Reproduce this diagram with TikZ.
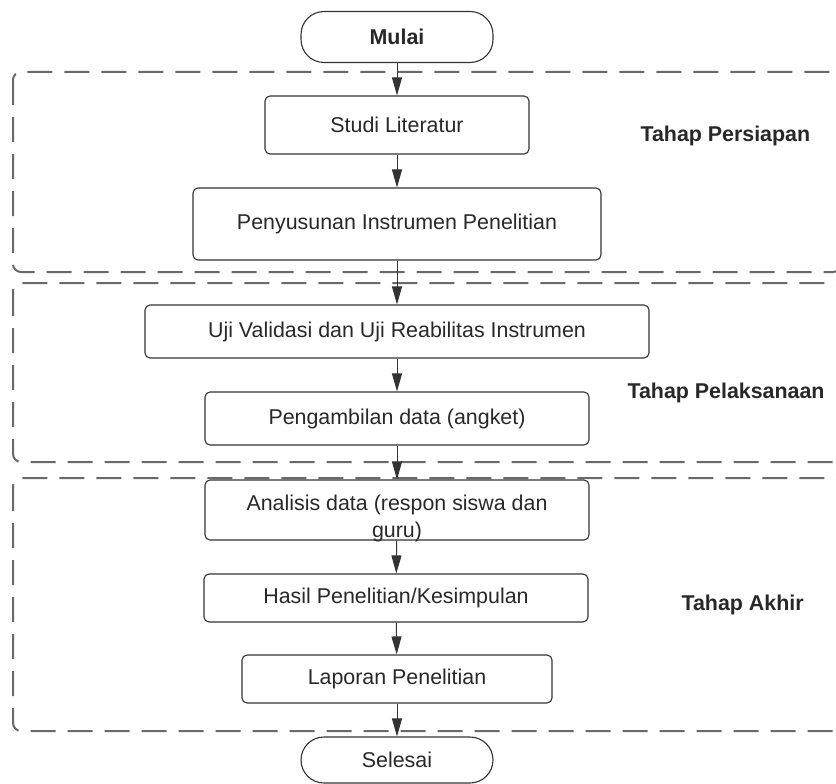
\documentclass[tikz,border=0pt]{standalone}
\usepackage{fontspec}
\setmainfont{Liberation Sans}
\usepackage{tikz}
\usetikzlibrary{calc,positioning,arrows.meta}
\definecolor{linegray}{RGB}{51,51,51}
\definecolor{framegray}{RGB}{105,105,105}
\definecolor{textgray}{RGB}{40,40,40}

\begin{document}
\begin{tikzpicture}[x=1pt, y=-1pt,
  stepbox/.style={draw=linegray, line width=1.1pt, rounded corners=5pt,
    font=\fontsize{21.4}{27}\selectfont, text=textgray, align=center,
    inner sep=0pt},
  termbox/.style={stepbox, rounded corners=23pt},
  phase/.style={draw=framegray, line width=2pt, rounded corners=8pt,
    dash pattern=on 25pt off 12pt},
  phaselabel/.style={font=\fontsize{21.4}{27}\selectfont\bfseries,
    text=textgray, anchor=west},
  flow/.style={draw=linegray, line width=1pt,
    -{Triangle[length=18pt, width=10pt]}},
]
  \useasboundingbox (0,0) rectangle (836,784);
  \clip (0,0) rectangle (836,784);

  % Phase frames
  \draw[phase] (13,72) rectangle (841,272);
  \draw[phase] (13,283) rectangle (841,462);
  \draw[phase] (13,478) rectangle (841,731);

  % Steps
  \node[termbox, minimum width=192, minimum height=51,
    font=\fontsize{21.4}{27}\selectfont\bfseries] (mulai) at (397,37) {Mulai};
  \node[stepbox, minimum width=264, minimum height=58] (studi) at (397,125)
    {Studi Literatur};
  \node[stepbox, minimum width=408, minimum height=72] (susun) at (397,224)
    {Penyusunan Instrumen Penelitian};
  \node[stepbox, minimum width=504, minimum height=53] (uji) at (397,331.5)
    {Uji Validasi dan Uji Reabilitas Instrumen};
  \node[stepbox, minimum width=384, minimum height=53] (ambil) at (397,418.5)
    {Pengambilan data (angket)};
  \node[stepbox, minimum width=384, minimum height=60] (analisis) at (397,510) {};
  \node[font=\fontsize{21.4}{27}\selectfont, text=textgray, align=center,
    inner sep=0pt] (analisistext) at (397,518)
    {Analisis data (respon siswa dan\\guru)};
  \node[stepbox, minimum width=384, minimum height=48] (hasil) at (396,598)
    {Hasil Penelitian/Kesimpulan};
  \node[stepbox, minimum width=310, minimum height=48] (laporan) at (397,679)
    {Laporan Penelitian};
  \node[termbox, minimum width=192, minimum height=46] (selesai) at (397,760)
    {Selesai};

  % Phase labels
  \node[phaselabel] (persiapan) at (637,136) {Tahap Persiapan};
  \node[phaselabel] (pelaksanaan) at (624,393) {Tahap Pelaksanaan};
  \node[phaselabel] (akhir) at (678,605) {Tahap Akhir};

  % Arrows
  \draw[flow] (mulai) -- (studi);
  \draw[flow] (studi) -- (susun);
  \draw[flow] (susun) -- (uji);
  \draw[flow] (uji) -- (ambil);
  \draw[flow] (ambil) -- (analisis);
  \draw[flow] (analisis) -- (hasil);
  \draw[flow] (hasil) -- (laporan);
  \draw[flow] (laporan) -- (selesai);
\end{tikzpicture}
\end{document}
